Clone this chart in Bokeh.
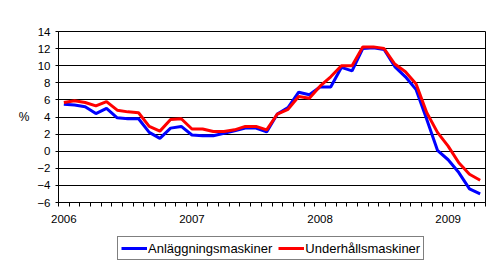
from bokeh.plotting import figure
from bokeh.models import FixedTicker, Legend, LegendItem, Range1d, ColumnDataSource
from bokeh.layouts import column
from bokeh.embed import file_html
from bokeh.resources import INLINE

# Monthly data Jan 2006 .. Apr 2009 (index 0..39), annual change %
month_index = list(range(40))
year_ticks = [0, 12, 24, 36]
year_labels = ["2006", "2007", "2008", "2009"]

anlaggningsmaskiner = [5.5, 5.4, 5.2, 4.4, 5.0, 3.9, 3.8, 3.8, 2.2, 1.5,
                       2.7, 2.9, 1.9, 1.8, 1.8, 2.1, 2.4, 2.7, 2.7, 2.25,
                       4.35, 5.1, 6.9, 6.6, 7.5, 7.5, 9.8, 9.4, 12.0, 12.1,
                       11.9, 9.9, 8.7, 7.2, 3.7, 0.1, -1.0, -2.5, -4.4, -5.0]
underhallsmaskiner = [5.7, 5.9, 5.7, 5.3, 5.8, 4.8, 4.6, 4.5, 2.9, 2.35,
                      3.7, 3.8, 2.6, 2.6, 2.3, 2.3, 2.5, 2.9, 2.9, 2.5,
                      4.35, 4.9, 6.4, 6.2, 7.6, 8.7, 10.0, 10.0, 12.2, 12.2,
                      12.0, 10.2, 9.3, 7.85, 4.5, 2.2, 0.6, -1.35, -2.7, -3.4]
y_ticks = [-6, -4, -2, 0, 2, 4, 6, 8, 10, 12, 14]
series_names = ["Anläggningsmaskiner", "Underhållsmaskiner"]
series_colors = ["#0000ff", "#ff0000"]

src = ColumnDataSource(dict(x=month_index, a=anlaggningsmaskiner, u=underhallsmaskiner))

FONT = "Liberation Sans"

p = figure(width=497, height=232, output_backend="svg", toolbar_location=None,
           x_range=Range1d(-0.5, len(month_index) - 0.5), y_range=Range1d(-6, 14),
           min_border_left=58, min_border_right=12, min_border_top=31, min_border_bottom=30)
p.background_fill_color = "white"
p.border_fill_color = "white"
p.outline_line_color = "black"
p.outline_line_alpha = 1

# x axis
p.xaxis.ticker = FixedTicker(ticks=year_ticks, minor_ticks=[i - 0.5 for i in range(len(month_index) + 1)])
p.xaxis.major_label_overrides = {t: l for t, l in zip(year_ticks, year_labels)}
p.xaxis.major_tick_out = 0
p.xaxis.major_tick_in = 0
p.xaxis.minor_tick_out = 4
p.xaxis.minor_tick_in = 0
p.xaxis.axis_line_color = "black"
p.xaxis.minor_tick_line_color = "black"
p.xaxis.major_label_text_font = FONT
p.xaxis.major_label_text_font_size = "11.5px"
p.xaxis.major_label_text_color = "black"
p.xaxis.major_label_standoff = 8
p.xgrid.visible = False

# y axis
p.yaxis.ticker = FixedTicker(ticks=y_ticks, minor_ticks=[])
p.yaxis.major_tick_out = 3
p.yaxis.major_tick_in = 0
p.yaxis.axis_line_color = "black"
p.yaxis.major_tick_line_color = "black"
p.yaxis.major_label_text_font = FONT
p.yaxis.major_label_text_font_size = "11.5px"
p.yaxis.major_label_text_color = "black"
p.yaxis.major_label_standoff = 5
p.yaxis.axis_label = "%"
p.yaxis.axis_label_orientation = "horizontal"
p.yaxis.axis_label_text_font = FONT
p.yaxis.axis_label_text_font_size = "12px"
p.yaxis.axis_label_text_font_style = "normal"
p.yaxis.axis_label_text_color = "black"
p.yaxis.axis_label_standoff = 5
p.ygrid.grid_line_color = "black"
p.ygrid.grid_line_width = 1
p.ygrid.grid_line_alpha = 1

p.line("x", "a", source=src, line_color=series_colors[0], line_width=3)
p.line("x", "u", source=src, line_color=series_colors[1], line_width=3)

# legend strip below the chart (its frame is aligned with the chart's frame)
lg = figure(width=497, height=36, output_backend="svg", toolbar_location=None,
            x_range=Range1d(0, 1), y_range=Range1d(0, 1),
            x_axis_location=None, y_axis_location=None,
            min_border_left=0, min_border_right=0, min_border_top=0, min_border_bottom=0)
lg.grid.visible = False
lg.outline_line_color = None
lg.background_fill_color = "white"
lg.border_fill_color = "white"
items = []
for name, col in zip(series_names, series_colors):
    # placeholder renderer outside the visible range, only used for the legend swatch
    r = lg.line(x=[5, 6], y=[5, 6], line_color=col, line_width=3)
    items.append(LegendItem(label=name, renderers=[r]))

legend = Legend(items=items, orientation="horizontal", location=(59, 8),
                border_line_color="black", border_line_width=1,
                label_text_font=FONT, label_text_font_size="13px",
                label_text_color="black",
                glyph_width=26, glyph_height=16, label_standoff=1,
                spacing=6, padding=3, margin=0, label_height=16)
lg.add_layout(legend)

open("out.html", "w").write(file_html(column(p, lg, spacing=0), INLINE))
